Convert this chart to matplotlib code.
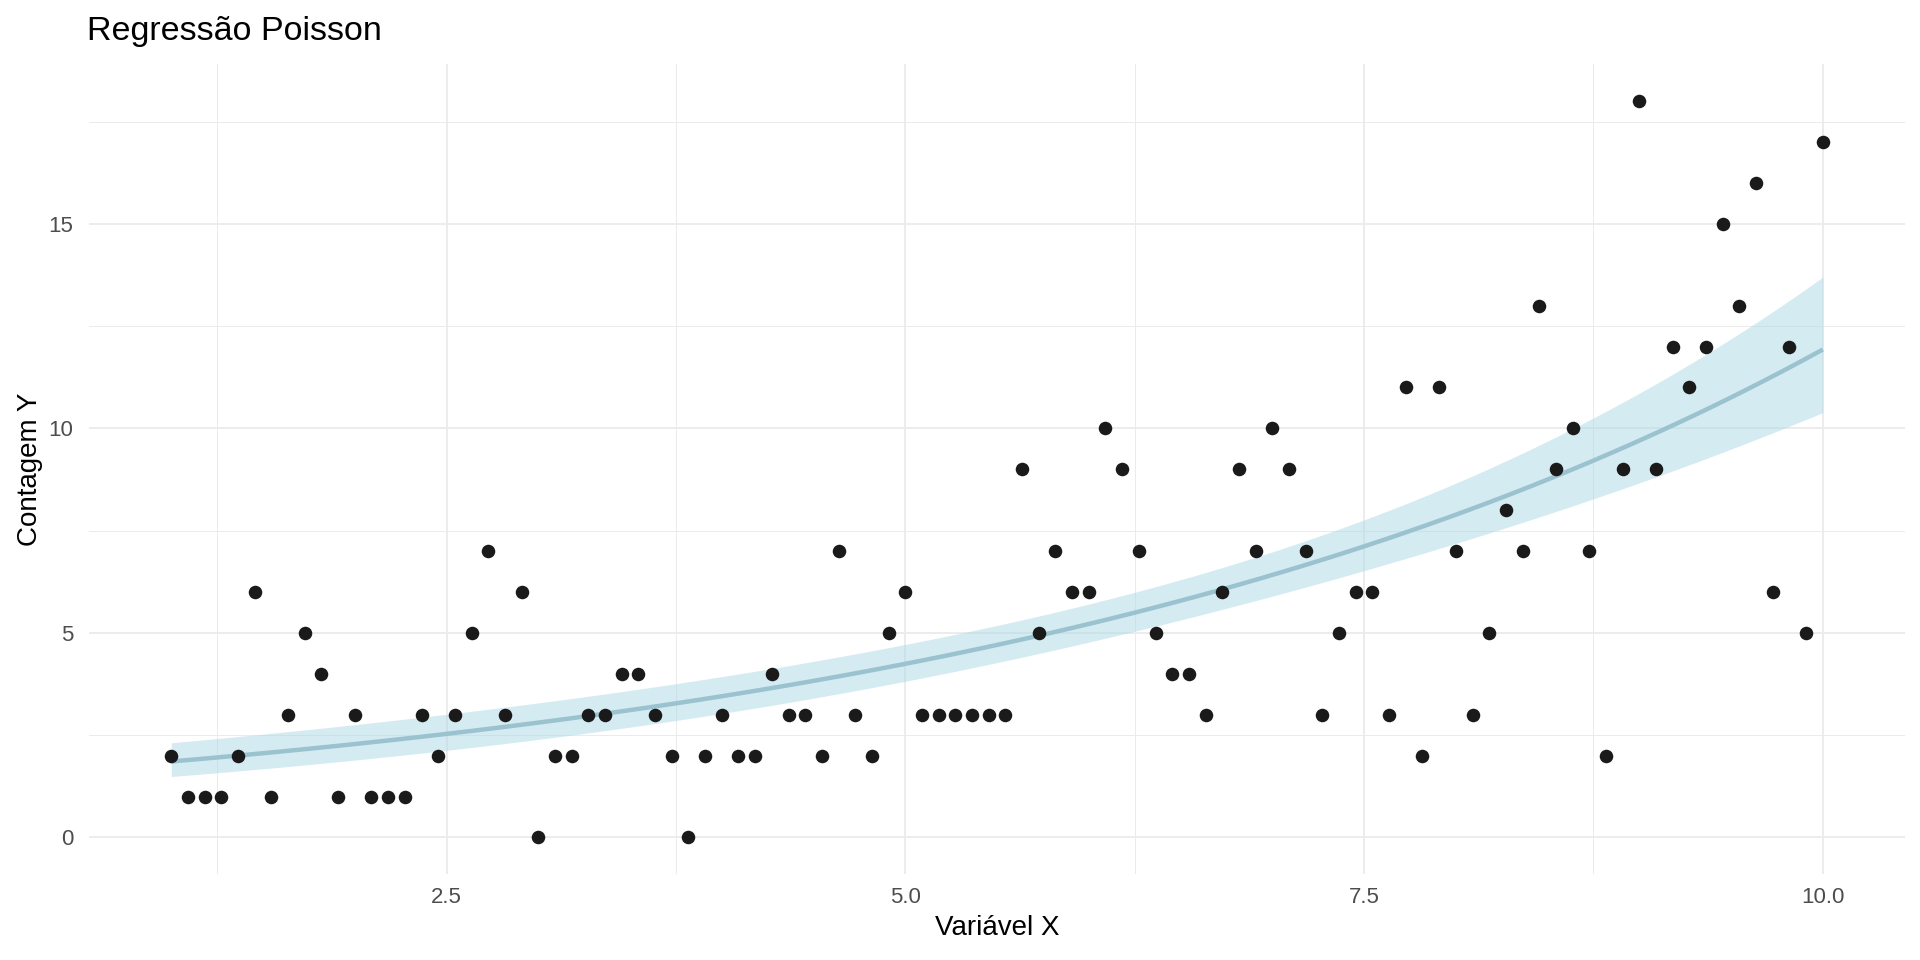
import numpy as np
import matplotlib.pyplot as plt
from matplotlib.ticker import MultipleLocator

# dados (100 pontos, x de 1 a 10)
x = np.linspace(1, 10, 100)
y = np.array([
    2, 1, 1, 1, 2, 6, 1, 3, 5, 4,
    1, 3, 1, 1, 1, 3, 2, 3, 5, 7,
    3, 6, 0, 2, 2, 3, 3, 4, 4, 3,
    2, 0, 2, 3, 2, 2, 4, 3, 3, 2,
    7, 3, 2, 5, 6, 3, 3, 3, 3, 3,
    3, 9, 5, 7, 6, 6, 10, 9, 7, 5,
    4, 4, 3, 6, 9, 7, 10, 9, 7, 3,
    5, 6, 6, 3, 11, 2, 11, 7, 3, 5,
    8, 7, 13, 9, 10, 7, 2, 9, 18, 9,
    12, 11, 12, 15, 13, 16, 6, 12, 5, 17,
], dtype=float)

titulo = "Regressão Poisson"
rotulo_x = "Variável X"
rotulo_y = "Contagem Y"

# ajuste glm poisson (IRLS)
X = np.column_stack([np.ones_like(x), x])
beta = np.array([np.log(y.mean()), 0.0])
for _ in range(50):
    eta = X @ beta
    mu = np.exp(eta)
    z = eta + (y - mu) / mu
    XtW = X.T * mu
    beta = np.linalg.solve(XtW @ X, XtW @ z)
mu = np.exp(X @ beta)
cov = np.linalg.inv((X.T * mu) @ X)

xg = np.linspace(1, 10, 80)
Xg = np.column_stack([np.ones_like(xg), xg])
eta_g = Xg @ beta
se_g = np.sqrt(np.einsum("ij,jk,ik->i", Xg, cov, Xg))
fit = np.exp(eta_g)
lo = np.exp(eta_g - 1.96 * se_g)
hi = np.exp(eta_g + 1.96 * se_g)

plt.rcParams["font.family"] = ["Liberation Sans", "DejaVu Sans"]

fig = plt.figure(figsize=(19.2, 9.6), dpi=100)
ax = fig.add_axes([0.0462, 0.0893, 0.9462, 0.8437])

ax.fill_between(xg, lo, hi, color="#ADD8E6", alpha=0.5, linewidth=0, zorder=2)
ax.plot(xg, fit, color="#9BC2CF", linewidth=3.2, zorder=3, solid_capstyle="butt")
ax.scatter(x, y, s=95, color="#1A1A1A", zorder=4, linewidths=0)

ax.set_xlim(0.55, 10.45)
ax.set_ylim(-0.9, 18.9)
ax.xaxis.set_minor_locator(MultipleLocator(1.25))
ax.yaxis.set_minor_locator(MultipleLocator(2.5))
ax.set_xticks([2.5, 5.0, 7.5, 10.0])
ax.set_xticklabels(["2.5", "5.0", "7.5", "10.0"])
ax.set_yticks([0, 5, 10, 15])
ax.set_yticklabels(["0", "5", "10", "15"])

ax.grid(True, which="major", color="#EBEBEB", linewidth=1.3, zorder=0)
ax.grid(True, which="minor", color="#EBEBEB", linewidth=0.7, zorder=0)
ax.set_axisbelow(True)
for s in ax.spines.values():
    s.set_visible(False)
ax.tick_params(which="both", length=0, labelsize=16, labelcolor="#4D4D4D")
ax.tick_params(axis="y", pad=11)
ax.tick_params(axis="x", pad=9)

ax.set_xlabel(rotulo_x, fontsize=20, color="black", labelpad=5)
ax.set_ylabel(rotulo_y, fontsize=20, color="black", labelpad=4)
fig.text(0.0455, 0.967, titulo, fontsize=24.5, ha="left", va="center")

fig.savefig("out.png", dpi=100)
